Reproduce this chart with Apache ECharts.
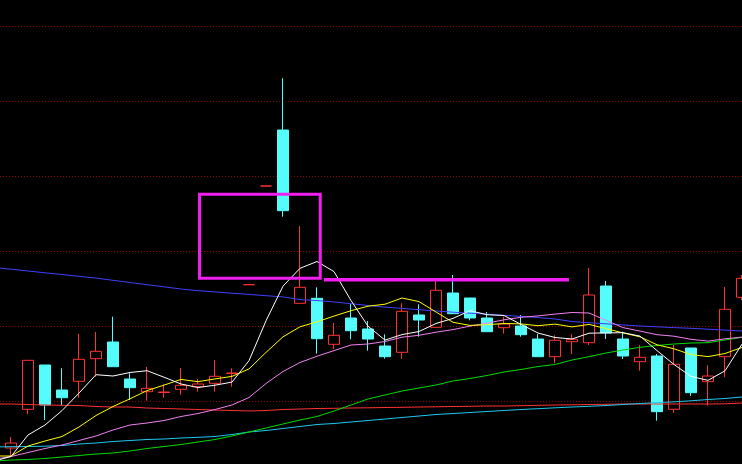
<!DOCTYPE html>
<html>
<head>
<meta charset="utf-8">
<script src="https://cdn.jsdelivr.net/npm/echarts@6/dist/echarts.min.js"></script>
<style>
html,body{margin:0;padding:0;background:#000;width:742px;height:464px;overflow:hidden;position:relative;}
#chart{position:absolute;left:-15px;top:-49px;width:766px;height:525px;}
</style>
</head>
<body>
<div id="chart"></div>
<script>
// ---- data (price units) ----
const days = [];
for (let i = 0; i < 45; i++) days.push('D' + (i + 1));

// [open, close, low, high]
const ohlc = [
  [10, 29, 8, 31],
  [28, 33, 19, 39],
  [66.7, 115.7, 61.7, 115.7],
  [111, 71, 56, 111],
  [86, 78.3, 71, 107.7],
  [94.7, 116.7, 78.3, 142],
  [117.3, 124.7, 99.3, 144],
  [134, 109.3, 109.3, 159.3],
  [97, 88.3, 76, 102.7],
  [84.3, 87.7, 75.3, 109],
  [83.5, 84, 78.3, 91.7],
  [86.7, 90.7, 81.3, 108],
  [89.3, 92, 84.3, 97],
  [92.7, 99.7, 84.3, 115.7],
  [102.5, 103, 89.3, 107.7],
  [191.3, 191.3, 191.3, 191.3],
  [290, 290, 290, 290],
  [346, 265.3, 259.3, 397.7],
  [172.7, 188.7, 172.7, 250],
  [177.7, 137.3, 122.3, 188.7],
  [131.7, 140.7, 127, 153],
  [158, 145.3, 136.7, 172],
  [147, 137, 125.3, 155],
  [130, 119.3, 117.3, 141.7],
  [123.7, 164.7, 117.3, 172.7],
  [161, 156, 139.3, 171.7],
  [148.7, 185.7, 148.7, 195],
  [183, 162.3, 162, 201],
  [178, 158, 155.7, 178],
  [158, 144.3, 144.3, 164],
  [148.3, 152, 142.3, 159.3],
  [150, 141.3, 139.3, 161],
  [137, 119.3, 119.3, 142],
  [119.3, 135.7, 112.7, 140.7],
  [134.3, 136.7, 122, 142],
  [133.3, 181, 131, 208],
  [190, 143, 137, 195],
  [137, 120, 117, 144.3],
  [114.3, 118.7, 105.3, 131],
  [120, 64.3, 55.3, 122],
  [66.7, 111.7, 63.3, 131],
  [128, 83.3, 80, 128],
  [94.3, 100, 70.3, 110.7],
  [119.3, 166.7, 98.7, 189],
  [178.7, 197.7, 176, 201]
];

const ma5 = [15, 19.5, 41, 51, 65.4, 82.9, 101.3, 100, 103.5, 105.3, 98.8, 92, 88.5, 90.8, 93.9,
  115.3, 155.2, 189.9, 207.7, 214.5, 204.4, 175.5, 149.8, 135.9, 141.4, 144.5, 152.5, 157.6, 165.3, 161.3,
  160.5, 151.6, 143, 138.5, 137, 142.8, 143.1, 143.3, 139.9, 125.4, 111.5, 99.6, 95.6, 105.2, 131.9];
const ma10 = [20, 20, 30, 35, 39.5, 49, 60.5, 69.5, 77.2, 85.4, 90.9, 96.6, 94.3, 97.1, 99.6,
  107.1, 123.6, 139.2, 149.2, 154.2, 159.9, 165.3, 169.8, 171.8, 178, 174.4, 164, 153.7, 150.6, 151.3,
  152.5, 152.1, 150.3, 151.9, 149.1, 151.6, 147.4, 143.1, 139.2, 131.2, 127.2, 121.4, 119.4, 122.5, 128.6];
const ma20 = [16.7, 19.5, 23.5, 27.5, 31, 35.5, 40, 46, 51, 53, 55.5, 59.5, 62.5, 66.5, 71,
  78.5, 92.5, 104.5, 113.5, 119.8, 125.4, 131, 132, 134.5, 138.8, 140.7, 143.8, 146.4, 149.9, 152.8,
  156.2, 158.7, 160.1, 161.9, 163.5, 163, 155.7, 148.4, 144.9, 141.3, 139.8, 136.7, 134.9, 137.2, 138.9];
const ma60 = [15, 16, 16.5, 17.5, 19, 20.5, 22, 23, 25, 27.5, 29.5, 31.5, 34, 36.5, 40,
  44, 48, 52, 56, 59.5, 65, 71, 77, 81, 85, 88, 91, 95, 97.5, 100.5,
  104, 106.5, 109.5, 111.5, 116, 119.3, 123, 126, 128.7, 130.5, 132, 133, 133.3, 136, 138.7];
const ma120 = [29, 29.3, 29.5, 29.8, 30.5, 32, 33, 34.5, 35.5, 36.5, 37, 38, 38.7, 39.5, 41.5,
  44, 45.5, 47.5, 49.5, 51.5, 52.5, 54, 55.5, 57, 58.5, 60, 61.5, 62.5, 63.5, 64.5,
  65.5, 66.5, 67.3, 68.2, 69, 69.7, 70.5, 71.5, 72.5, 73.3, 74.2, 75.2, 76.5, 77.5, 79];
const ma250 = [72, 72, 71.5, 71, 70.7, 70.5, 69.5, 69, 69, 68, 67.5, 67, 66.5, 66, 65.5,
  65, 65.5, 66.5, 67, 67.5, 67.7, 68, 68.2, 68.5, 68.7, 69, 69.2, 69.5, 69.7, 70,
  70, 70.3, 70.7, 71, 71.2, 71.5, 71.7, 72, 72, 72, 72, 72, 72, 72.2, 73];
const ma500 = [208.5, 206.8, 205, 203.2, 201.5, 199.7, 197.9, 195.7, 193.5, 191.3, 189.2, 187, 185.3, 184.1, 182.8,
  181.6, 180.3, 179.1, 176.5, 175.4, 174.1, 172.3, 170.5, 168.9, 167.6, 166.3, 165, 163.8, 162.8, 161.8,
  160.7, 159.6, 158.5, 157, 154.5, 153.3, 152.2, 151.1, 150, 149.2, 148.4, 147.7, 146.8, 145.9, 145];

// annotation (in bar-index / price units)
const boxX = [12.09, 19.19];
const boxY = [197.7, 281.7];
const levelX = [19.41, 33.82];
const levelY = 196.2;

// ---- chart ----
const chart = echarts.init(document.getElementById('chart'), null, {renderer: 'canvas'});
function maLine(name, data, color) {
  return {
    name, type: 'line', data, xAxisIndex: 0, yAxisIndex: 0,
    symbol: 'none', smooth: false, silent: true, z: 3,
    lineStyle: {color, width: 1}
  };
}
const hiddenAxis = {axisLine: {show: false}, axisTick: {show: false}, axisLabel: {show: false}, splitLine: {show: false}};
const option = {
  backgroundColor: '#000',
  animation: false,
  grid: [
    {left: 0.5, right: 0.5, top: 0, bottom: 0, containLabel: false},
    {left: 0, right: 0, top: 0, bottom: 0, containLabel: false}
  ],
  xAxis: [
    {type: 'category', data: days, boundaryGap: true, show: false, gridIndex: 0},
    {type: 'value', min: -0.5, max: 44.5, show: false, gridIndex: 0},
    Object.assign({type: 'value', min: 0, max: 1, gridIndex: 1}, hiddenAxis)
  ],
  yAxis: [
    Object.assign({type: 'value', min: 0, max: 525, interval: 75, gridIndex: 0}, hiddenAxis),
    {
      type: 'value', min: 0, max: 525, interval: 75, gridIndex: 1, z: 0,
      axisLine: {show: false}, axisTick: {show: false}, axisLabel: {show: false},
      splitLine: {show: true, lineStyle: {color: '#900000', width: 1, type: [1, 2]}}
    }
  ],
  series: [
    {
      type: 'candlestick', data: ohlc, barWidth: 12, z: 2, silent: true,
      itemStyle: {
        color: '#000', color0: '#54fcfc',
        borderColor: '#ff3232', borderColor0: '#54fcfc',
        borderColorDoji: '#ff3232', borderWidth: 1
      }
    },
    maLine('MA250', ma250, '#ff3232'),
    maLine('MA120', ma120, '#1ec8f0'),
    maLine('MA60', ma60, '#00dc00'),
    maLine('MA500', ma500, '#4040ff'),
    maLine('MA20', ma20, '#f080f0'),
    maLine('MA10', ma10, '#ffff00'),
    maLine('MA5', ma5, '#ffffff'),
    {
      type: 'line', xAxisIndex: 1, yAxisIndex: 0, symbol: 'none', silent: true, z: 5,
      data: [[boxX[0], boxY[1]], [boxX[1], boxY[1]], [boxX[1], boxY[0]], [boxX[0], boxY[0]], [boxX[0], boxY[1]]],
      lineStyle: {color: '#f01ef0', width: 3, join: 'miter', cap: 'square'}
    },
    {
      type: 'line', xAxisIndex: 1, yAxisIndex: 0, symbol: 'none', silent: true, z: 5,
      data: [[levelX[0], levelY], [levelX[1], levelY]],
      lineStyle: {color: '#f01ef0', width: 3.5}
    }
  ]
};
chart.setOption(option);
</script>
</body>
</html>
